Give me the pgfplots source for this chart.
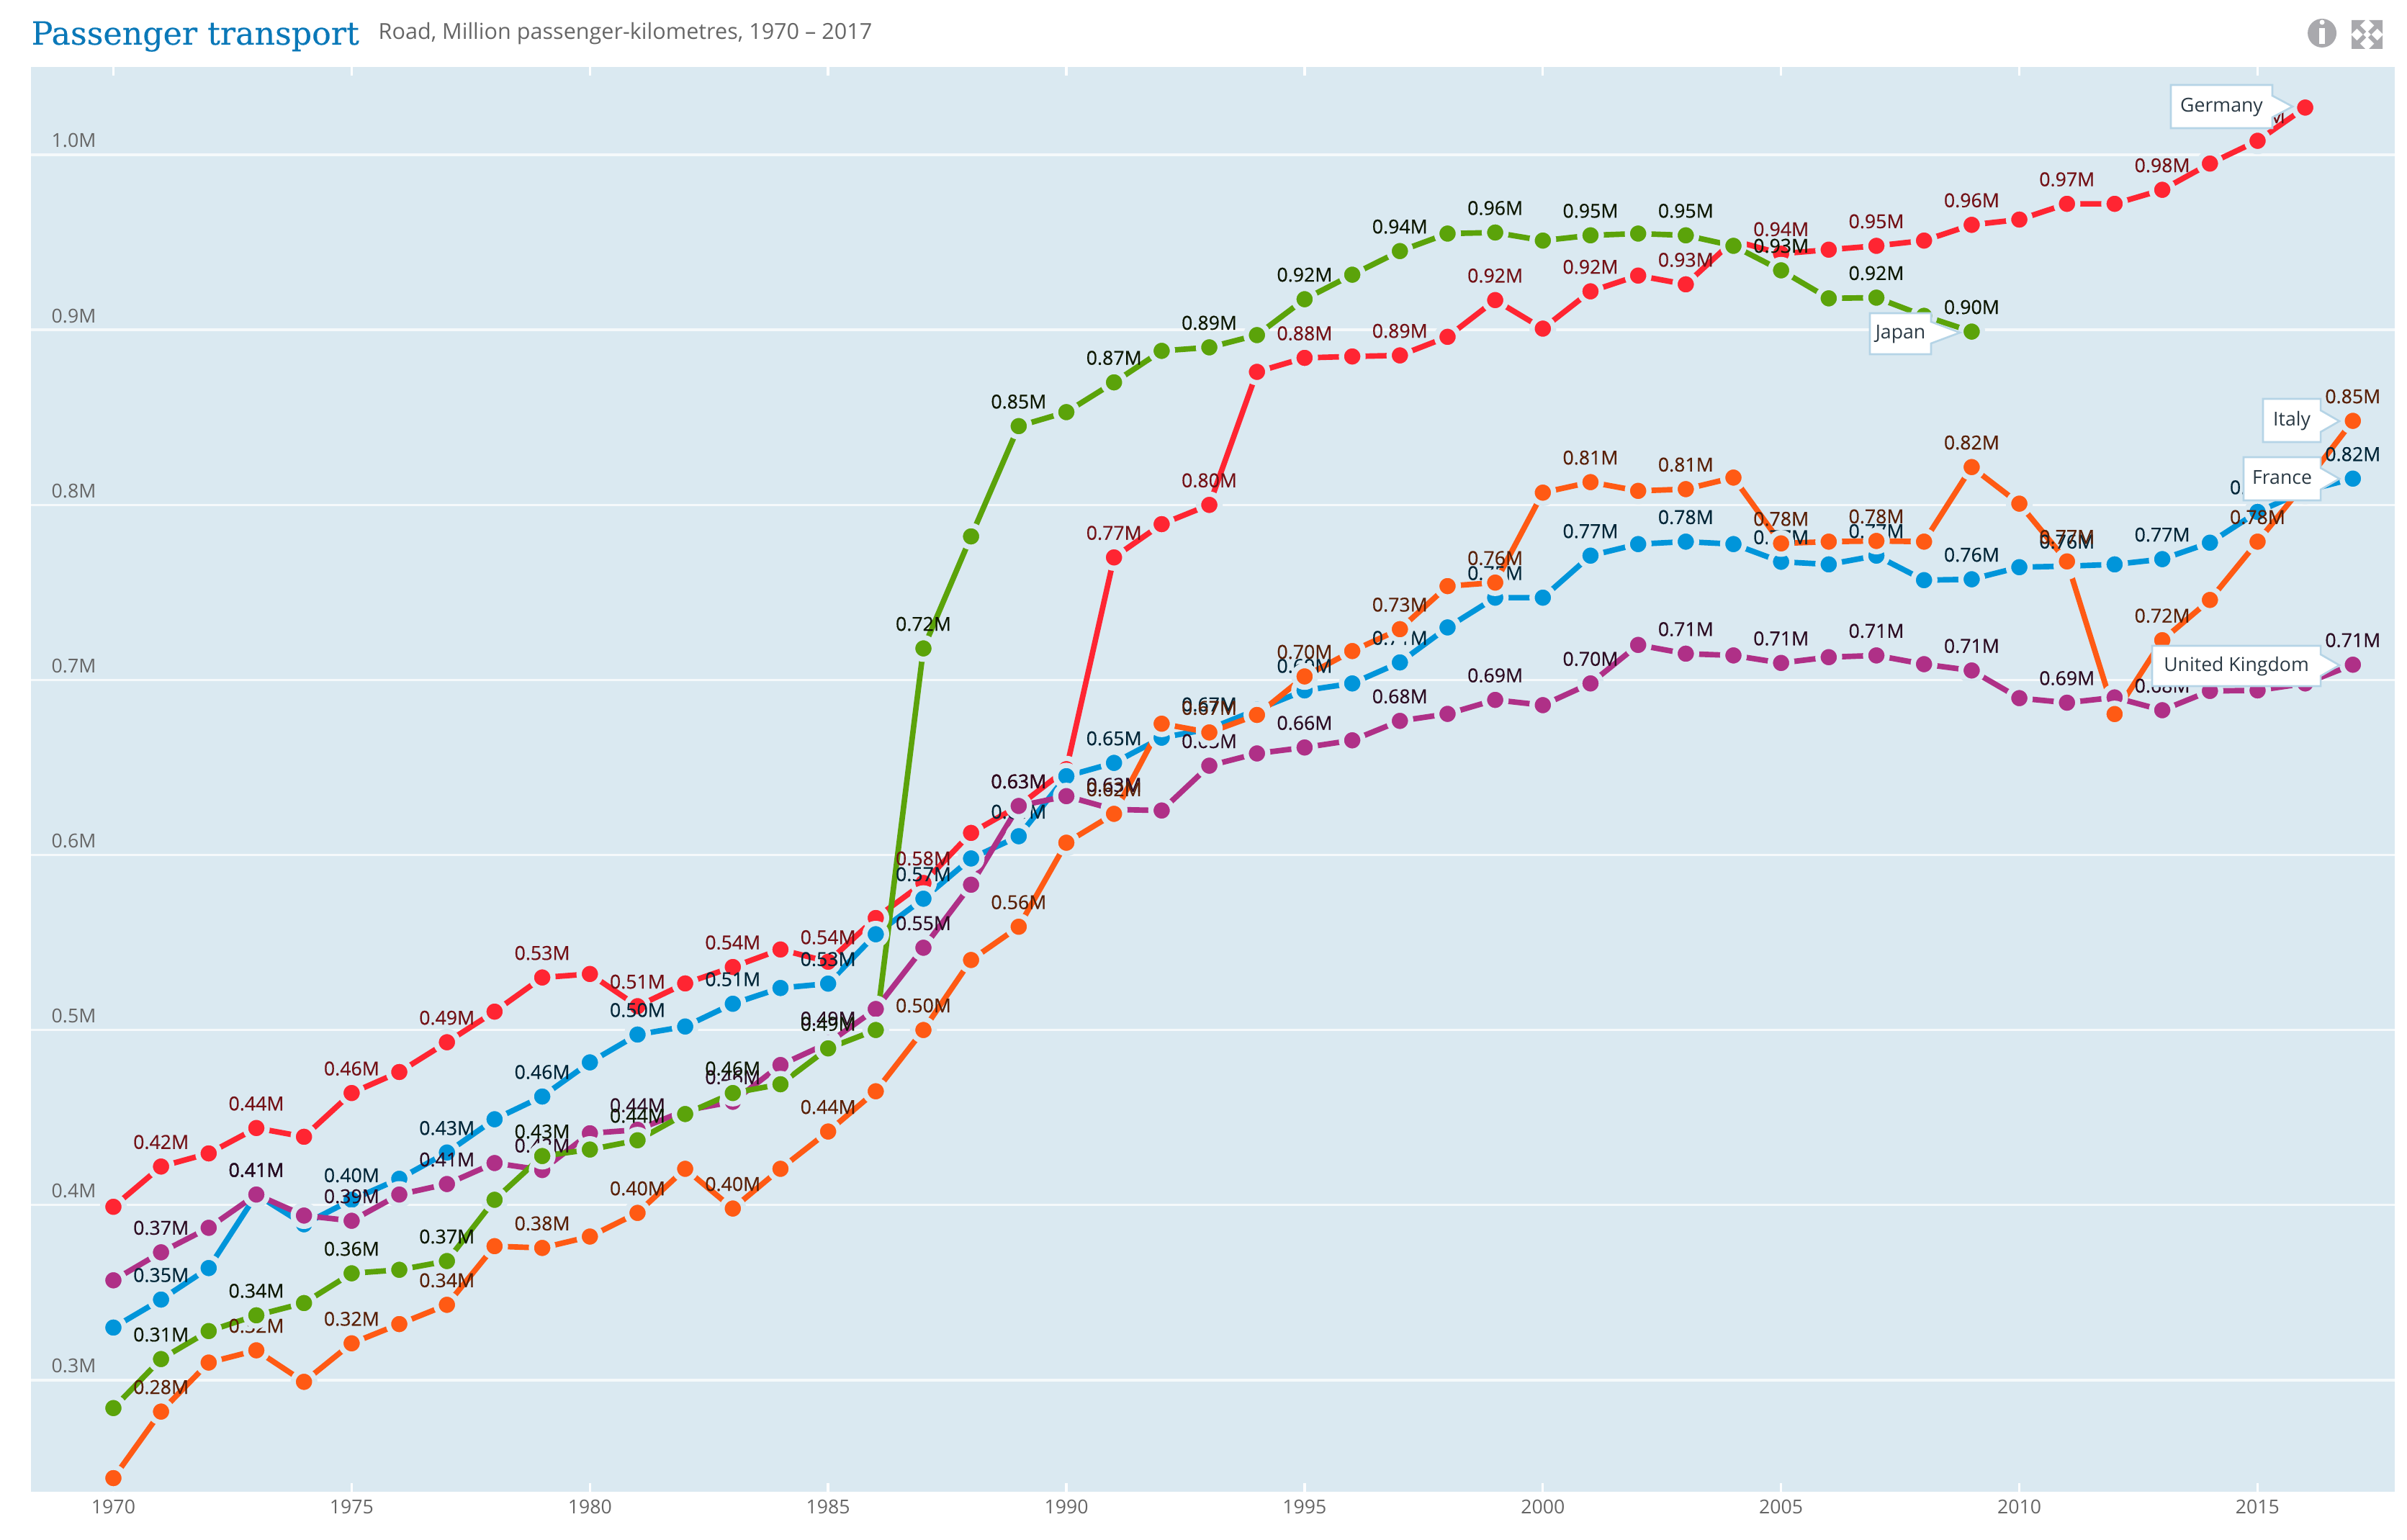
\documentclass[border=0pt]{standalone}
\usepackage{fontspec}
\usepackage{pgfplots}
\usepackage{pgfplotstable}
\pgfplotsset{compat=1.18}
\setmainfont{Open Sans}
\newfontfamily\titlefont[FakeBold=0.3]{DejaVu Serif}
\newfontfamily\labfont[FakeBold=0.5]{Open Sans}

\definecolor{plotbg}{HTML}{DAE9F1}
\definecolor{gridc}{HTML}{F5F9FB}
\definecolor{tickc}{HTML}{666666}
\definecolor{boxb}{HTML}{B5D4E6}
\definecolor{tipc}{HTML}{2B3A45}
\definecolor{titlec}{HTML}{0A78B8}
\definecolor{iconc}{HTML}{A9A9AD}
\definecolor{cde}{HTML}{FF2532}
\definecolor{cfr}{HTML}{0095DA}
\definecolor{cuk}{HTML}{AF3087}
\definecolor{cit}{HTML}{FF5A14}
\definecolor{cjp}{HTML}{5BA30A}

\pgfplotstableread{
year value label
1970 0.399 {}
1971 0.422 0.42M
1972 0.4295 {}
1973 0.444 0.44M
1974 0.439 {}
1975 0.464 0.46M
1976 0.476 {}
1977 0.493 0.49M
1978 0.5105 {}
1979 0.530 0.53M
1980 0.532 {}
1981 0.5136 0.51M
1982 0.5266 {}
1983 0.536 0.54M
1984 0.546 {}
1985 0.539 0.54M
1986 0.564 {}
1987 0.584 0.58M
1988 0.6126 {}
1989 0.628 0.63M
1990 0.649 {}
1991 0.770 0.77M
1992 0.789 {}
1993 0.800 0.80M
1994 0.876 {}
1995 0.884 0.88M
1996 0.8848 {}
1997 0.8854 0.89M
1998 0.896 {}
1999 0.917 0.92M
2000 0.9007 {}
2001 0.922 0.92M
2002 0.931 {}
2003 0.926 0.93M
2004 0.951 {}
2005 0.9435 0.94M
2006 0.9458 {}
2007 0.948 0.95M
2008 0.951 {}
2009 0.960 0.96M
2010 0.963 {}
2011 0.972 0.97M
2012 0.972 {}
2013 0.980 0.98M
2014 0.995 {}
2015 1.008 1.01M
2016 1.027 {}
}\germany

\pgfplotstableread{
year value label
1970 0.330 {}
1971 0.346 0.35M
1972 0.364 {}
1973 0.406 0.41M
1974 0.389 {}
1975 0.403 0.40M
1976 0.415 {}
1977 0.430 0.43M
1978 0.449 {}
1979 0.462 0.46M
1980 0.4815 {}
1981 0.4974 0.50M
1982 0.502 {}
1983 0.515 0.51M
1984 0.524 {}
1985 0.5265 0.53M
1986 0.5547 {}
1987 0.575 0.57M
1988 0.598 {}
1989 0.6107 0.61M
1990 0.645 {}
1991 0.6526 0.65M
1992 0.667 {}
1993 0.672 0.67M
1994 0.683 {}
1995 0.694 0.69M
1996 0.698 {}
1997 0.710 0.71M
1998 0.730 {}
1999 0.747 0.75M
2000 0.747 {}
2001 0.771 0.77M
2002 0.7776 {}
2003 0.779 0.78M
2004 0.7776 {}
2005 0.7675 0.77M
2006 0.766 {}
2007 0.771 0.77M
2008 0.757 {}
2009 0.7575 0.76M
2010 0.7644 {}
2011 0.765 0.76M
2012 0.766 {}
2013 0.769 0.77M
2014 0.7784 {}
2015 0.796 0.80M
2016 0.808 {}
2017 0.815 0.82M
}\france

\pgfplotstableread{
year value label
1970 0.357 {}
1971 0.373 0.37M
1972 0.387 {}
1973 0.406 0.41M
1974 0.394 {}
1975 0.391 0.39M
1976 0.406 {}
1977 0.412 0.41M
1978 0.424 {}
1979 0.420 0.42M
1980 0.441 {}
1981 0.443 0.44M
1982 0.454 {}
1983 0.459 0.46M
1984 0.480 {}
1985 0.4925 0.49M
1986 0.512 {}
1987 0.547 0.55M
1988 0.583 {}
1989 0.628 0.63M
1990 0.6336 {}
1991 0.626 0.63M
1992 0.6254 {}
1993 0.651 0.65M
1994 0.658 {}
1995 0.6614 0.66M
1996 0.6655 {}
1997 0.6766 0.68M
1998 0.6806 {}
1999 0.6886 0.69M
2000 0.6856 {}
2001 0.698 0.70M
2002 0.720 {}
2003 0.715 0.71M
2004 0.714 {}
2005 0.7097 0.71M
2006 0.713 {}
2007 0.714 0.71M
2008 0.709 {}
2009 0.7054 0.71M
2010 0.6896 {}
2011 0.687 0.69M
2012 0.690 {}
2013 0.6827 0.68M
2014 0.6937 {}
2015 0.694 0.69M
2016 0.698 {}
2017 0.7087 0.71M
}\uk

\pgfplotstableread{
year value label
1970 0.244 {}
1971 0.282 0.28M
1972 0.310 {}
1973 0.317 0.32M
1974 0.299 {}
1975 0.321 0.32M
1976 0.332 {}
1977 0.343 0.34M
1978 0.3765 {}
1979 0.3755 0.38M
1980 0.382 {}
1981 0.3955 0.40M
1982 0.4207 {}
1983 0.398 0.40M
1984 0.4207 {}
1985 0.442 0.44M
1986 0.465 {}
1987 0.500 0.50M
1988 0.540 {}
1989 0.559 0.56M
1990 0.607 {}
1991 0.6235 0.62M
1992 0.675 {}
1993 0.670 0.67M
1994 0.680 {}
1995 0.702 0.70M
1996 0.7165 {}
1997 0.729 0.73M
1998 0.7536 {}
1999 0.7556 0.76M
2000 0.807 {}
2001 0.813 0.81M
2002 0.808 {}
2003 0.809 0.81M
2004 0.8156 {}
2005 0.778 0.78M
2006 0.779 {}
2007 0.7794 0.78M
2008 0.779 {}
2009 0.8216 0.82M
2010 0.8007 {}
2011 0.7677 0.77M
2012 0.6805 {}
2013 0.7227 0.72M
2014 0.7457 {}
2015 0.779 0.78M
2016 0.8125 {}
2017 0.848 0.85M
}\italy

\pgfplotstableread{
year value label
1970 0.284 {}
1971 0.312 0.31M
1972 0.328 {}
1973 0.337 0.34M
1974 0.344 {}
1975 0.361 0.36M
1976 0.363 {}
1977 0.368 0.37M
1978 0.403 {}
1979 0.428 0.43M
1980 0.4317 {}
1981 0.437 0.44M
1982 0.452 {}
1983 0.464 0.46M
1984 0.469 {}
1985 0.4895 0.49M
1986 0.500 {}
1987 0.718 0.72M
1988 0.782 {}
1989 0.845 0.85M
1990 0.853 {}
1991 0.870 0.87M
1992 0.888 {}
1993 0.890 0.89M
1994 0.897 {}
1995 0.9175 0.92M
1996 0.9315 {}
1997 0.945 0.94M
1998 0.955 {}
1999 0.9556 0.96M
2000 0.951 {}
2001 0.954 0.95M
2002 0.955 {}
2003 0.954 0.95M
2004 0.948 {}
2005 0.934 0.93M
2006 0.918 {}
2007 0.9184 0.92M
2008 0.908 {}
2009 0.899 0.90M
}\japan

\pgfplotsset{
  serie/.style={color=#1, line width=2.3pt, line join=round, line cap=round, mark=*, mark size=4.5pt,
    mark options={fill=#1, draw=plotbg, line width=2.2pt, solid}},
  lab/.style={only marks, mark=none, point meta=explicit symbolic, nodes near coords,
    every node near coord/.append style={font=\labfont\fontsize{8}{9}\selectfont, text=#1, anchor=center, yshift=10.2pt, inner sep=0pt}},
}

% box with its pointer: left top right bottom tipx tipy text (image pixels)
\newcommand\callout[7]{%
  \draw[fill=white, draw=boxb, line width=.8pt] (#1,#2) -- (#3,#2) -- (#3,{#6-15}) -- (#5,#6) -- (#3,{#6+15}) -- (#3,#4) -- (#1,#4) -- cycle;
  \node[text=tipc, font=\fontsize{8}{9}\selectfont, text height=6pt, text depth=1.5pt] at ({(#1+#3)/2},{(#2+#4)/2}) {#7};
}

\begin{document}
\begin{tikzpicture}
\path[use as bounding box] (0,0) rectangle (1002.9pt,641.7pt);
\begin{axis}[
  at={(12.9pt,20.1pt)}, anchor=south west, scale only axis,
  width=984.9pt, height=593.7pt,
  xmin=1968.27, xmax=2017.88, ymin=0.2362, ymax=1.0502,
  clip=false,
  axis line style={draw=none},
  axis background/.style={fill=plotbg},
  xtick={1970,1975,...,2015},
  ytick={0.3,0.4,0.5,0.6,0.7,0.8,0.9,1.0},
  yticklabels={0.3M,0.4M,0.5M,0.6M,0.7M,0.8M,0.9M,1.0M},
  /pgf/number format/1000 sep={},
  /pgf/number format/assume math mode=true,
  ymajorgrids, grid style={gridc, line width=1pt},
  tick align=inside, major tick length=3.6pt,
  xtick style={white, line width=1pt}, ytick style={draw=none},
  tick label style={font=\fontsize{8}{9}\selectfont, text=tickc},
  xticklabel style={anchor=center, yshift=-6.3pt, inner sep=0pt},
  yticklabel style={anchor=south west, xshift=8.4pt, yshift=2.7pt, inner sep=0pt},
]
\addplot[serie=cde] table[x=year,y=value]{\germany};
\addplot[lab=cde!45!black] table[x=year,y=value,meta=label]{\germany};
\addplot[serie=cfr] table[x=year,y=value]{\france};
\addplot[lab=cfr!25!black] table[x=year,y=value,meta=label]{\france};
\addplot[serie=cuk] table[x=year,y=value]{\uk};
\addplot[lab=cuk!25!black] table[x=year,y=value,meta=label]{\uk};
\addplot[serie=cit] table[x=year,y=value]{\italy};
\addplot[lab=cit!35!black] table[x=year,y=value,meta=label]{\italy};
\addplot[serie=cjp] table[x=year,y=value]{\japan};
\addplot[lab=cjp!15!black] table[x=year,y=value,meta=label]{\japan};
\end{axis}
\begin{scope}[x=.3pt, y=-.3pt, yshift=641.7pt]
  \node[anchor=base west, inner sep=0pt, text=titlec, font=\titlefont\fontsize{13.3}{15}\selectfont] at (43,62) {Passenger transport};
  \node[anchor=base west, inner sep=0pt, text=tickc, font=\fontsize{9.17}{11}\selectfont] at (525,55) {Road, Million passenger-kilometres, 1970 – 2017};
  \callout{3015}{118}{3156}{178}{3184}{148}{Germany}
  \callout{2597}{435}{2682}{492}{2722}{462}{Japan}
  \callout{3143}{554}{3223}{614}{3249}{585}{Italy}
  \callout{3116}{635}{3223}{695}{3249}{665}{France}
  \callout{2989}{897}{3223}{953}{3249}{924}{United Kingdom}
  % info and expand icons
  \fill[iconc] (3225,46) circle [radius=20];
  \fill[white] (3225,31) circle [radius=3.5];
  \fill[white] (3221,39) rectangle (3229,61);
  \foreach \sx/\sy/\cx/\cy in {1/1/3266/28, -1/1/3309/28, 1/-1/3266/68, -1/-1/3309/68}{
    \fill[iconc] (\cx,\cy) -- ++({\sx*19},0) -- ++({-\sx*19},{\sy*19}) -- cycle;
    \draw[iconc, line width=1.8pt] ({\cx+\sx*6},{\cy+\sy*6}) -- ({\cx+\sx*18},{\cy+\sy*18});
  }
\end{scope}
\end{tikzpicture}
\end{document}
